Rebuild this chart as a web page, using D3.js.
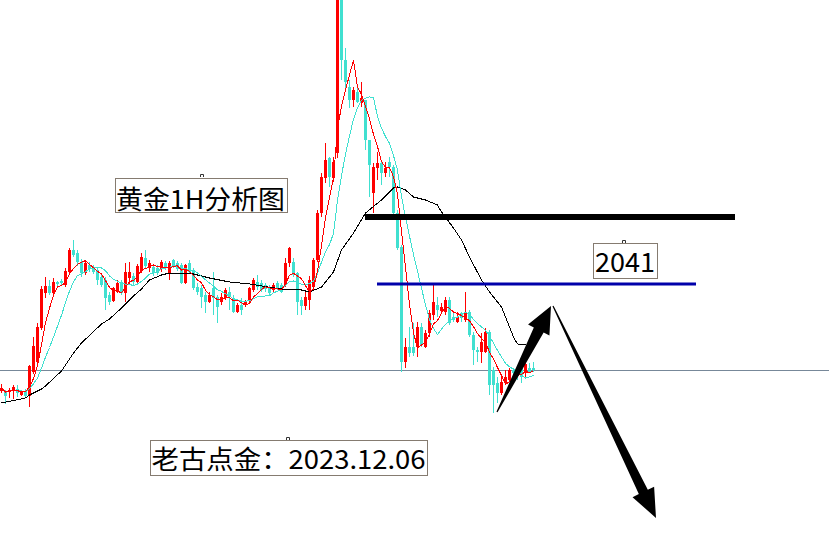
<!DOCTYPE html>
<html><head><meta charset="utf-8">
<script src="https://cdn.jsdelivr.net/npm/d3@7"></script>
<style>html,body{margin:0;padding:0;background:#fff;overflow:hidden}</style>
</head><body>
<svg id="c" width="829" height="556"></svg>
<script>
// ---- data (gold, 1H candles) ----
const opens = [2014.25,2014,2014,2014.5,2014.75,2013.25,2014.25,2013,2019,2021.5,
2030,2038.75,2040.5,2038.75,2041.5,2041.75,2040.75,2044,2049.5,2048.75,
2046.5,2043.75,2045.75,2045.25,2044.5,2042.75,2042,2038.25,2036.75,2039,
2041.5,2038.75,2042.5,2043,2041.5,2044.25,2047.5,2045,2045.25,2045,
2044.75,2046.25,2043.75,2047,2046.25,2045.75,2041.25,2046.25,2044.5,2040.25,
2040,2038.25,2036.5,2040,2037.75,2036.5,2037.5,2039,2037,2034,
2035.75,2035.75,2037,2039.5,2041.5,2041.25,2040.75,2040.25,2039.5,2041.25,
2040.75,2040.75,2046.25,2046.5,2043.75,2037,2035.5,2037,2040.25,2047,
2058.75,2067.5,2072.5,2067.5,2073.75,2119.5,2097,2090.25,2087,2089,
2086.25,2087,2077,2063.75,2070,2071.25,2068.75,2071.5,2070.25,2058.75,
2050.25,2021.5,2025.25,2025.25,2025.25,2030.25,2025.25,2028.75,2033.25,2035.75,
2034.25,2034,2037,2032.75,2031.5,2033.75,2032,2034,2028.25,2024.5,
2024,2024,2029,2019.5,2016.25,2013.75,2016.25,2017,2019.5,2019,
2020,2018.75,2020,2020];
const highs = [2016,2014.5,2015,2015.75,2015.75,2014.5,2014.75,2020.75,2027.75,2031.25,
2040.5,2042.75,2042,2042.5,2041.75,2042.25,2045,2050,2052,2049.5,
2047.25,2047,2046.5,2045.75,2045.25,2043.75,2042.75,2039,2040.25,2042,
2042,2046.25,2046.5,2043.75,2046,2048.75,2049.5,2047,2046,2045.75,
2047,2046.75,2046.75,2047.25,2046.75,2046.25,2046,2047,2045,2041.25,
2040.75,2039,2039,2044,2038.25,2038.75,2040,2040.25,2038.25,2036.25,
2037.5,2037,2040.25,2042.5,2043.25,2042,2041.25,2040.75,2041.25,2041.75,
2041.25,2047.5,2050.25,2047.5,2044,2037.75,2039,2043,2047.5,2059.5,
2068.75,2076.25,2072.75,2072.75,2127,2124.5,2100,2092,2090.25,2090,
2091.5,2087,2077,2071.25,2074,2072,2071.5,2072.75,2070.75,2059.5,
2050.75,2027.5,2030.25,2031.25,2031.5,2031.25,2029.5,2034.5,2040.75,2037.75,
2036.25,2037.75,2037.75,2033.75,2034,2034,2039,2034.5,2029,2025.25,
2028.75,2030,2029.5,2020.25,2017.75,2017.75,2019.5,2020,2020,2019.5,
2020.75,2021.5,2021.25,2021.5];
const lows = [2013.75,2011,2012.5,2012.25,2012.75,2013,2012.75,2010.25,2018.5,2021,
2029.5,2037.5,2038.25,2038.25,2040.5,2040.75,2040.25,2043.75,2047.75,2045.5,
2042.75,2043.25,2044,2043.5,2040.75,2040.25,2034.5,2035.75,2036.5,2038.75,
2038.25,2036.5,2040.75,2040.75,2041.25,2043.75,2045,2044,2043,2043.25,
2044,2044.5,2042,2045,2044.25,2041,2041,2043.75,2039.5,2038.25,
2035,2033.75,2036.25,2033.25,2031.25,2035.75,2037,2034.5,2033.75,2033.75,
2033.25,2035.25,2036.5,2039,2039.5,2039,2039,2038.25,2039,2039.5,
2038.75,2040.25,2045.25,2042.75,2033.25,2033.25,2034.5,2034.5,2039.5,2046.5,
2057.75,2066.25,2065.25,2066.5,2072.5,2092,2090,2085,2085.25,2086.25,
2085.25,2074.5,2062.75,2058.75,2067,2065.75,2067.75,2067.75,2058.25,2049.5,
2019,2020,2022.75,2023,2022.75,2025.25,2025,2027.75,2032,2032.75,
2033.75,2033.25,2030.75,2031.5,2031.25,2031.5,2031.5,2027.75,2020.75,2021.5,
2021.25,2023.75,2013.25,2008.75,2011.25,2013.25,2015.75,2016.5,2017.5,2017,
2016.25,2017.75,2018.75,2019];
const closes = [2015,2013,2014.5,2015.25,2013.75,2014,2013,2020.5,2025.5,2030.25,
2039.75,2040.5,2038.75,2041.5,2041,2041.25,2044.25,2049.5,2048.25,2046.5,
2043.75,2046.25,2044.75,2044,2042,2040.75,2037.5,2036.5,2040,2041.25,
2038.75,2044,2044,2041.5,2045.5,2047.75,2045.5,2046.25,2043.75,2043.75,
2046.5,2045,2046.25,2045.25,2044.75,2041.25,2045.75,2044,2040,2039,
2037.75,2036.5,2038.25,2037.5,2035.25,2037.75,2039.5,2037.75,2034,2035.75,
2034.5,2036.5,2040,2042,2040.25,2039.5,2039.75,2038.75,2040.75,2040,
2039,2046.25,2050,2043.25,2036.5,2035.5,2037.75,2042,2047,2058.75,
2067.75,2072,2067.75,2071.5,2119.5,2097,2091.5,2087,2089.5,2086.5,
2087.5,2077,2070.75,2070.25,2071.25,2068.75,2070,2070.25,2058.75,2050,
2021.5,2025.25,2023.75,2023.75,2030.25,2025.75,2028.75,2033.75,2036.5,2034.5,
2035.25,2037,2031.25,2032,2032.75,2032.5,2033.75,2028.25,2024.5,2024,
2026.5,2029,2015.75,2015.75,2013.75,2016.5,2017.75,2019.5,2018.75,2018.25,
2017.75,2021,2019,2019.5];
// long moving average (black), read at candle indices
const longMAIdx = [0,6,7,10,11,15,18,20,25,27,30,33,35,37,40,42,47,52,57,62,65,70,75,77,80,83,85,88,91,95,98,99,101,103,106,109,110,113,115,117,120,122,125,128,129,131];
const longMAVal = [2011.25,2012.5,2013.25,2014.75,2015.5,2019.25,2023.75,2026.25,2031,2032.25,2035,2038,2039.75,2042,2043.25,2043.75,2043.75,2042.5,2041.5,2041,2040.5,2039.75,2039.5,2039,2040.25,2044,2049.5,2053.75,2058.75,2062,2065,2065.25,2064.5,2062.75,2062,2060.75,2059,2055,2052,2047.75,2042,2039,2035.25,2027.75,2026,2025.75];
// levels
const resistLevel = 2057.75, keyLevel = 2041, baseLevel = 2019.5;
const labelTitle = "黄金1H分析图", labelLevel = "2041", labelAuthor = "老古点金：2023.12.06";

// ---- scales ----
const W = 829, H = 556;
const x = d3.scaleLinear().domain([0, 133]).range([1, 533]);
const y = d3.scaleLinear().domain([1973, 2112]).range([556, 0]);
const svg = d3.select("#c");
const RED = "#ff0000", CYAN = "#40e0d0";

// derived short moving averages
function sma(arr, n) { return arr.map((v, i) => d3.mean(arr.slice(Math.max(0, i - n + 1), i + 1))); }
const ma5 = sma(closes, 5), ma10 = sma(closes, 10);

// base gray line
svg.append("line").attr("x1", 0).attr("x2", W).attr("y1", Math.round(y(baseLevel)) + 0.5).attr("y2", Math.round(y(baseLevel)) + 0.5)
  .attr("stroke", "#778899").attr("stroke-width", 1);

// candles
const g = svg.append("g").attr("shape-rendering", "crispEdges");
const idx = d3.range(opens.length);
g.selectAll(".wick").data(idx).join("rect")
  .attr("x", i => Math.round(x(i)))
  .attr("width", 1)
  .attr("y", i => Math.round(y(highs[i])))
  .attr("height", i => Math.max(1, Math.round(y(lows[i])) - Math.round(y(highs[i]))))
  .attr("fill", i => closes[i] >= opens[i] ? RED : CYAN);
g.selectAll(".body").data(idx).join("rect")
  .attr("x", i => Math.round(x(i)) - 1)
  .attr("width", 3)
  .attr("y", i => Math.round(y(Math.max(opens[i], closes[i]))))
  .attr("height", i => Math.max(1, Math.round(y(Math.min(opens[i], closes[i]))) - Math.round(y(Math.max(opens[i], closes[i])))))
  .attr("fill", i => closes[i] >= opens[i] ? RED : CYAN);

// moving average lines
const lineGen = d3.line().x(d => x(d[0]) + 0.5).y(d => y(d[1]));
svg.append("path").attr("d", lineGen(longMAIdx.map((k, j) => [k, longMAVal[j]])))
  .attr("fill", "none").attr("stroke", "#000").attr("stroke-width", 1).attr("shape-rendering", "crispEdges");
svg.append("path").attr("d", lineGen(ma10.map((v, i) => [i, v])))
  .attr("fill", "none").attr("stroke", CYAN).attr("stroke-width", 1).attr("shape-rendering", "crispEdges");
svg.append("path").attr("d", lineGen(ma5.map((v, i) => [i, v])))
  .attr("fill", "none").attr("stroke", RED).attr("stroke-width", 1).attr("shape-rendering", "crispEdges");

// horizontal levels
svg.append("rect").attr("x", x(91)).attr("width", x(183.5) - x(91))
  .attr("y", y(resistLevel) - 3).attr("height", 6).attr("fill", "#000");
svg.append("rect").attr("x", x(94)).attr("width", x(173.75) - x(94))
  .attr("y", y(keyLevel) - 1.5).attr("height", 3).attr("fill", "#0000aa");

// arrows
function arrow(t, p, tailHW, baseHW, headLen, headHW) {
  const tx = x(t[0]), ty = y(t[1]), px = x(p[0]), py = y(p[1]);
  const dx = px - tx, dy = py - ty, L = Math.hypot(dx, dy);
  const ux = dx / L, uy = dy / L, nx = -uy, ny = ux;
  const bx = px - ux * headLen, by = py - uy * headLen;
  const pts = [[tx + nx * tailHW, ty + ny * tailHW], [bx + nx * baseHW, by + ny * baseHW], [bx + nx * headHW, by + ny * headHW],
    [px, py], [bx - nx * headHW, by - ny * headHW], [bx - nx * baseHW, by - ny * baseHW], [tx - nx * tailHW, ty - ny * tailHW]];
  svg.append("path").attr("d", "M" + pts.map(q => q.join(",")).join("L") + "Z").attr("fill", "#000");
}
arrow([124, 2009], [137.5, 2035.5], 0.6, 5.5, 27, 12);
arrow([138, 2035.5], [163.75, 1982.5], 0.6, 5, 29, 12);

// labels
function label(txt, bx, by, bw, bh, tx, ty, tl, fs, mx, my) {
  svg.append("rect").attr("x", bx + 0.5).attr("y", by + 0.5).attr("width", bw).attr("height", bh)
    .attr("fill", "#fff").attr("stroke", "#857b70").attr("stroke-width", 1);
  svg.append("text").attr("x", tx).attr("y", ty).attr("textLength", tl).attr("lengthAdjust", "spacingAndGlyphs")
    .attr("font-family", "'Noto Sans CJK SC','Noto Sans',sans-serif").attr("font-size", fs).attr("fill", "#000").text(txt);
  svg.append("path").attr("d", `M${mx - 1.5},${my + 2.5}V${my}H${mx + 1.5}V${my + 2.5}`)
    .attr("fill", "none").attr("stroke", "#333").attr("stroke-width", 1);
}
label(labelTitle, 115, 178, 172, 34, 116, 209, 169, 26, 202, 174.5);
label(labelLevel, 593, 243, 64, 35, 595, 272, 60, 27, 624, 240.5);
label(labelAuthor, 150, 440, 277, 35, 151.5, 469, 274, 26, 288, 437.5);
</script>
</body></html>
